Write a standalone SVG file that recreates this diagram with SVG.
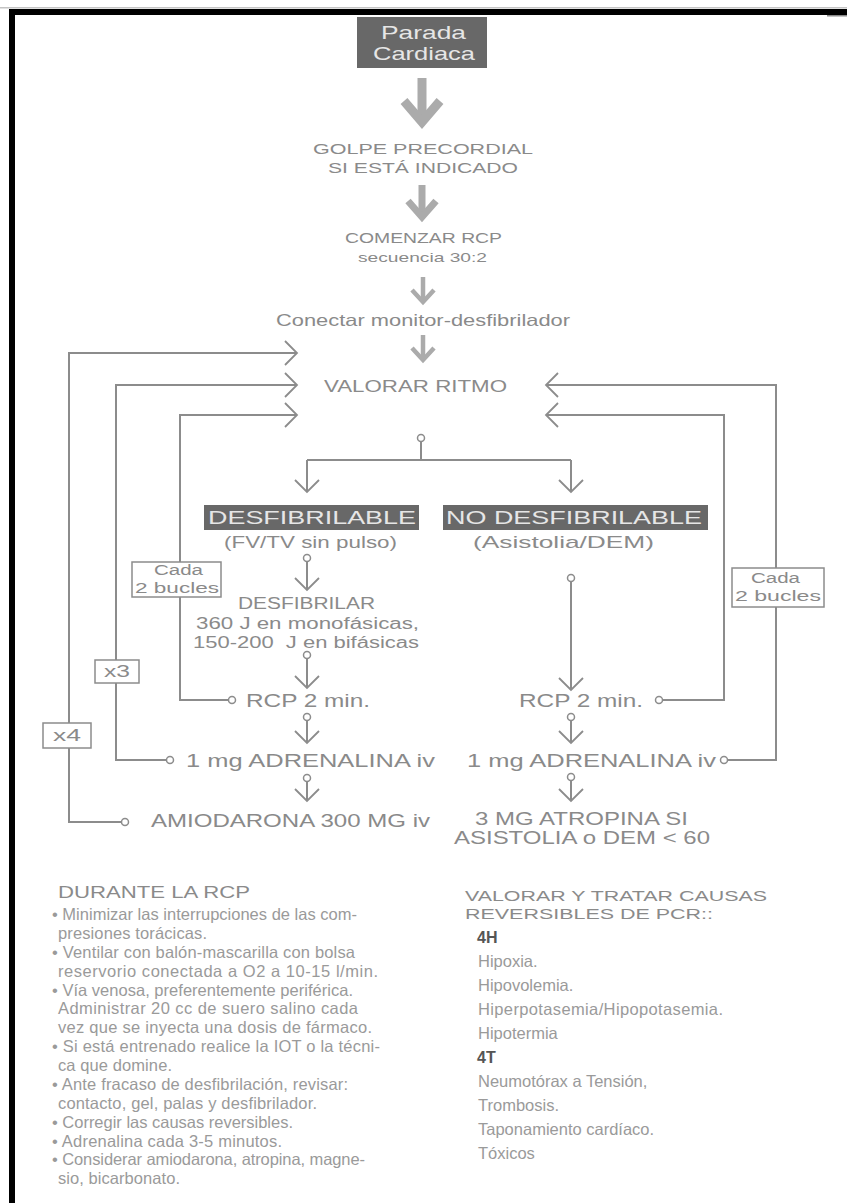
<svg xmlns="http://www.w3.org/2000/svg" width="847" height="1203" viewBox="0 0 847 1203">
<defs>
<style>
.f{font-family:"Liberation Sans",Arial,Helvetica,sans-serif;fill:#8a8a8a;}
.w{fill:#e6e6e6;}
.c{text-anchor:middle;}
.ln{stroke:#8c8c8c;stroke-width:2;fill:none;}
.dot{fill:#fff;stroke:#8c8c8c;stroke-width:1.5;}
.big{stroke:#ababab;fill:none;stroke-linejoin:miter;}
.dk{fill:#686868;}
.lb{fill:#fff;stroke:#8c8c8c;stroke-width:1.5;}
.b{fill:#9a9a9a;font-size:16.5px;}
.h{font-weight:bold;fill:#555;}
</style>
<marker id="v" markerUnits="userSpaceOnUse" markerWidth="16" markerHeight="28" viewBox="0 0 16 28" refX="14" refY="14" orient="auto">
<path d="M2,2 L14,14 L2,26" fill="none" stroke="#8c8c8c" stroke-width="1.8"/>
</marker>
</defs>
<rect x="0" y="0" width="847" height="1203" fill="#fff"/>
<rect x="0" y="7" width="847" height="1.5" fill="#c4c4c4"/>
<rect x="9" y="9" width="838" height="6" fill="#000"/>
<rect x="827" y="15" width="20" height="1.5" fill="#888"/>
<rect x="9" y="9" width="6" height="1194" fill="#000"/>

<g id="connectors">
<g id="big-arrows" class="big">
<path d="M422,78 V120" stroke-width="9"/>
<path d="M404,101 L422,122 L440,101" stroke-width="9"/>
<path d="M422,185 V216" stroke-width="7"/>
<path d="M408,201 L422,217 L436,201" stroke-width="7"/>
<path d="M423,277 V301" stroke-width="4.5"/>
<path d="M412,290 L423,302 L434,290" stroke-width="4.5"/>
<path d="M423,335 V359" stroke-width="4.5"/>
<path d="M412,348 L423,360 L434,348" stroke-width="4.5"/>
</g>
<path class="ln" d="M421,441 V460"/>
<path class="ln" d="M307,460 H571"/>
<path class="ln" d="M307,460 V492" marker-end="url(#v)"/>
<path class="ln" d="M571,460 V492" marker-end="url(#v)"/>
<path class="ln" d="M307,561 V590" marker-end="url(#v)"/>
<path class="ln" d="M307,658 V688" marker-end="url(#v)"/>
<path class="ln" d="M307,720 V743" marker-end="url(#v)"/>
<path class="ln" d="M307,781 V801" marker-end="url(#v)"/>
<path class="ln" d="M571,581 V690" marker-end="url(#v)"/>
<path class="ln" d="M571,720 V743" marker-end="url(#v)"/>
<path class="ln" d="M571,780 V801" marker-end="url(#v)"/>
<path class="ln" d="M121,822 H69 V353 H297" marker-end="url(#v)"/>
<path class="ln" d="M166,760 H116 V385 H297" marker-end="url(#v)"/>
<path class="ln" d="M228,700 H180 V415 H297" marker-end="url(#v)"/>
<path class="ln" d="M663,700 H724 V415 H546" marker-end="url(#v)"/>
<path class="ln" d="M728,760 H776 V385 H546" marker-end="url(#v)"/>
<circle class="dot" cx="421" cy="438" r="3.5"/>
<circle class="dot" cx="307" cy="558" r="3.5"/>
<circle class="dot" cx="307" cy="655" r="3.5"/>
<circle class="dot" cx="307" cy="717" r="3.5"/>
<circle class="dot" cx="307" cy="778" r="3.5"/>
<circle class="dot" cx="571" cy="578" r="3.5"/>
<circle class="dot" cx="571" cy="717" r="3.5"/>
<circle class="dot" cx="571" cy="777" r="3.5"/>
<circle class="dot" cx="125" cy="822" r="3.5"/>
<circle class="dot" cx="170" cy="760" r="3.5"/>
<circle class="dot" cx="232" cy="700" r="3.5"/>
<circle class="dot" cx="659" cy="700" r="3.5"/>
<circle class="dot" cx="724" cy="760" r="3.5"/>
</g>

<g id="node-parada">
<rect class="dk" x="357" y="17" width="130" height="51"/>
<text class="f w" x="381" y="39" font-size="19" textLength="85" lengthAdjust="spacingAndGlyphs">Parada</text>
<text class="f w" x="373" y="60" font-size="19" textLength="102" lengthAdjust="spacingAndGlyphs">Cardiaca</text>
</g>
<g id="node-golpe">
<text class="f" x="313" y="154" font-size="15.5" textLength="220" lengthAdjust="spacingAndGlyphs">GOLPE PRECORDIAL</text>
<text class="f" x="328" y="173" font-size="15.5" textLength="190" lengthAdjust="spacingAndGlyphs">SI ESTÁ INDICADO</text>
</g>
<g id="node-comenzar">
<text class="f" x="345" y="243" font-size="14" textLength="157" lengthAdjust="spacingAndGlyphs">COMENZAR RCP</text>
<text class="f" x="358" y="262" font-size="13.5" textLength="129" lengthAdjust="spacingAndGlyphs">secuencia 30:2</text>
</g>
<g id="node-conectar">
<text class="f" x="276" y="326" font-size="16.5" textLength="294" lengthAdjust="spacingAndGlyphs">Conectar monitor-desfibrilador</text>
</g>
<g id="node-valorar">
<text class="f" x="324" y="392" font-size="17" textLength="183" lengthAdjust="spacingAndGlyphs">VALORAR RITMO</text>
</g>
<g id="node-desfibrilable">
<rect class="dk" x="204" y="505" width="215" height="25"/>
<text class="f w" x="208" y="524" font-size="18.5" textLength="208" lengthAdjust="spacingAndGlyphs">DESFIBRILABLE</text>
<text class="f" x="224" y="548" font-size="17" textLength="173" lengthAdjust="spacingAndGlyphs">(FV/TV sin pulso)</text>
</g>
<g id="node-no-desfibrilable">
<rect class="dk" x="443" y="505" width="265" height="25"/>
<text class="f w" x="446" y="524" font-size="18.5" textLength="256" lengthAdjust="spacingAndGlyphs">NO DESFIBRILABLE</text>
<text class="f" x="473" y="548" font-size="17" textLength="181" lengthAdjust="spacingAndGlyphs">(Asistolia/DEM)</text>
</g>
<g id="node-desfibrilar">
<text class="f" x="238" y="609" font-size="16" textLength="137" lengthAdjust="spacingAndGlyphs">DESFIBRILAR</text>
<text class="f" x="196" y="629" font-size="16" textLength="223" lengthAdjust="spacingAndGlyphs">360 J en monofásicas,</text>
<text class="f" x="193" y="648" font-size="16" textLength="226" lengthAdjust="spacingAndGlyphs">150-200 &#160;J en bifásicas</text>
</g>
<g id="node-rcp-left">
<text class="f" x="246" y="707" font-size="18" textLength="124" lengthAdjust="spacingAndGlyphs">RCP 2 min.</text>
</g>
<g id="node-rcp-right">
<text class="f" x="519" y="707" font-size="18" textLength="124" lengthAdjust="spacingAndGlyphs">RCP 2 min.</text>
</g>
<g id="node-adrenalina-left">
<text class="f" x="186" y="767" font-size="18" textLength="249" lengthAdjust="spacingAndGlyphs">1 mg ADRENALINA iv</text>
</g>
<g id="node-adrenalina-right">
<text class="f" x="467" y="767" font-size="18" textLength="249" lengthAdjust="spacingAndGlyphs">1 mg ADRENALINA iv</text>
</g>
<g id="node-amiodarona">
<text class="f" x="151" y="827" font-size="18" textLength="279" lengthAdjust="spacingAndGlyphs">AMIODARONA 300 MG iv</text>
</g>
<g id="node-atropina">
<text class="f" x="475" y="825" font-size="18.5" textLength="213" lengthAdjust="spacingAndGlyphs">3 MG ATROPINA SI</text>
<text class="f" x="454" y="844" font-size="18.5" textLength="256" lengthAdjust="spacingAndGlyphs">ASISTOLIA o DEM &lt; 60</text>
</g>
<g id="label-cada-left">
<rect class="lb" x="132" y="562" width="89" height="35"/>
<text class="f" x="154" y="575" font-size="15.5" textLength="49" lengthAdjust="spacingAndGlyphs">Cada</text>
<text class="f" x="135" y="593" font-size="15.5" textLength="84" lengthAdjust="spacingAndGlyphs">2 bucles</text>
</g>
<g id="label-cada-right">
<rect class="lb" x="732" y="568" width="92" height="39"/>
<text class="f" x="751" y="583" font-size="15.5" textLength="49" lengthAdjust="spacingAndGlyphs">Cada</text>
<text class="f" x="735" y="601" font-size="15.5" textLength="86" lengthAdjust="spacingAndGlyphs">2 bucles</text>
</g>
<g id="label-x3">
<rect class="lb" x="95" y="660" width="44" height="23"/>
<text class="f" x="104" y="677" font-size="16" textLength="26" lengthAdjust="spacingAndGlyphs">x3</text>
</g>
<g id="label-x4">
<rect class="lb" x="43" y="723" width="48" height="25"/>
<text class="f" x="53" y="741" font-size="16" textLength="28" lengthAdjust="spacingAndGlyphs">x4</text>
</g>

<g id="notes-durante">
<text class="f" x="58" y="898" font-size="16.5" textLength="192" lengthAdjust="spacingAndGlyphs">DURANTE LA RCP</text>
<text class="f b" x="52" y="920" textLength="305">• Minimizar las interrupciones de las com-</text>
<text class="f b" x="58" y="939" textLength="149">presiones torácicas.</text>
<text class="f b" x="52" y="958" textLength="303">• Ventilar con balón-mascarilla con bolsa</text>
<text class="f b" x="58" y="977" textLength="320">reservorio conectada a O2 a 10-15 l/min.</text>
<text class="f b" x="52" y="996" textLength="301">• Vía venosa, preferentemente periférica.</text>
<text class="f b" x="58" y="1014" textLength="300">Administrar 20 cc de suero salino cada</text>
<text class="f b" x="58" y="1033" textLength="314">vez que se inyecta una dosis de fármaco.</text>
<text class="f b" x="52" y="1052" textLength="328">• Si está entrenado realice la IOT o la técni-</text>
<text class="f b" x="58" y="1071" textLength="114">ca que domine.</text>
<text class="f b" x="52" y="1090" textLength="296">• Ante fracaso de desfibrilación, revisar:</text>
<text class="f b" x="58" y="1109" textLength="259">contacto, gel, palas y desfibrilador.</text>
<text class="f b" x="52" y="1128" textLength="241">• Corregir las causas reversibles.</text>
<text class="f b" x="52" y="1147" textLength="230">• Adrenalina cada 3-5 minutos.</text>
<text class="f b" x="52" y="1165" textLength="313">• Considerar amiodarona, atropina, magne-</text>
<text class="f b" x="58" y="1184" textLength="122">sio, bicarbonato.</text>
</g>

<g id="notes-causas">
<text class="f" x="465" y="901" font-size="15.5" textLength="302" lengthAdjust="spacingAndGlyphs">VALORAR Y TRATAR CAUSAS</text>
<text class="f" x="465" y="919" font-size="15.5" textLength="248" lengthAdjust="spacingAndGlyphs">REVERSIBLES DE PCR::</text>
<text class="f h" x="477" y="943" font-size="16">4H</text>
<text class="f b" x="478" y="967">Hipoxia.</text>
<text class="f b" x="478" y="991">Hipovolemia.</text>
<text class="f b" x="478" y="1015" textLength="245">Hiperpotasemia/Hipopotasemia.</text>
<text class="f b" x="478" y="1039">Hipotermia</text>
<text class="f h" x="477" y="1063" font-size="16">4T</text>
<text class="f b" x="478" y="1087">Neumotórax a Tensión,</text>
<text class="f b" x="478" y="1111">Trombosis.</text>
<text class="f b" x="478" y="1135">Taponamiento cardíaco.</text>
<text class="f b" x="478" y="1159">Tóxicos</text>
</g>
</svg>
